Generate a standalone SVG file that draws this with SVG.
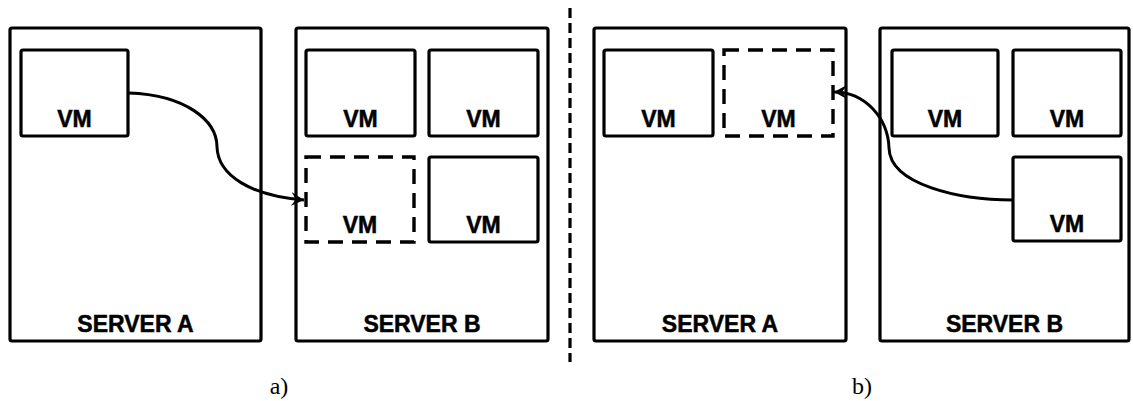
<svg xmlns="http://www.w3.org/2000/svg" width="1133" height="401" viewBox="0 0 1133 401">
  <style>
    .server { fill: #fff; stroke: #000; stroke-width: 3.2; stroke-linejoin: round; }
    .vm { fill: #fff; stroke: #000; stroke-width: 3.2; stroke-linejoin: round; }
    .vm-ghost { fill: none; stroke: #000; stroke-width: 3.4; stroke-dasharray: 15 9; }
    .lbl { font-family: "Liberation Sans", Arial, sans-serif; font-weight: bold; font-size: 23px; text-anchor: middle; fill: #000; stroke: #000; stroke-width: 0.5; }
    .cap { font-family: "Liberation Serif", "Times New Roman", serif; font-size: 24px; text-anchor: middle; fill: #000; }
    .move { fill: none; stroke: #000; stroke-width: 3; }
    .divider { stroke: #000; stroke-width: 3.2; stroke-dasharray: 10 5; }
  </style>
  <defs>
    <marker id="arrow" markerUnits="userSpaceOnUse" markerWidth="16" markerHeight="14" refX="13" refY="7" orient="auto">
      <path d="M0,0 L13,7 L0,14 L5,7 Z" fill="#000"/>
    </marker>
  </defs>

  <rect width="1133" height="401" fill="#fff"/>

  <!-- left half: a) -->
  <g id="a-server-a">
    <rect class="server" x="10" y="28" width="251" height="313" rx="2"/>
    <text class="lbl" x="135.5" y="332">SERVER A</text>
  </g>
  <g id="a-server-a-vm1">
    <rect class="vm" x="21" y="50" width="107" height="86" rx="2"/>
    <text class="lbl" x="74.5" y="127">VM</text>
  </g>
  <g id="a-server-b">
    <rect class="server" x="296" y="28" width="252" height="313" rx="2"/>
    <text class="lbl" x="422" y="332">SERVER B</text>
  </g>
  <g id="a-server-b-vm1">
    <rect class="vm" x="306" y="50" width="109" height="86" rx="2"/>
    <text class="lbl" x="360.5" y="127">VM</text>
  </g>
  <g id="a-server-b-vm2">
    <rect class="vm" x="429" y="50" width="109" height="86" rx="2"/>
    <text class="lbl" x="483.5" y="127">VM</text>
  </g>
  <g id="a-server-b-vm-new">
    <rect class="vm-ghost" x="306" y="157" width="108" height="85"/>
    <text class="lbl" x="360" y="233">VM</text>
  </g>
  <g id="a-server-b-vm3">
    <rect class="vm" x="429" y="157" width="109" height="85" rx="2"/>
    <text class="lbl" x="483.5" y="233">VM</text>
  </g>
  <g id="a-caption">
    <text class="cap" x="279" y="394">a)</text>
  </g>

  <!-- separator between the two cases -->
  <line class="divider" x1="570" y1="8" x2="570" y2="362"/>

  <!-- right half: b) -->
  <g id="b-server-a">
    <rect class="server" x="594" y="28" width="252" height="313" rx="2"/>
    <text class="lbl" x="720" y="332">SERVER A</text>
  </g>
  <g id="b-server-a-vm1">
    <rect class="vm" x="604" y="50" width="109" height="86" rx="2"/>
    <text class="lbl" x="658.5" y="127">VM</text>
  </g>
  <g id="b-server-a-vm-new">
    <rect class="vm-ghost" x="724" y="50" width="109" height="86"/>
    <text class="lbl" x="778.5" y="127">VM</text>
  </g>
  <g id="b-server-b">
    <rect class="server" x="880" y="28" width="249" height="313" rx="2"/>
    <text class="lbl" x="1004.5" y="332">SERVER B</text>
  </g>
  <g id="b-server-b-vm1">
    <rect class="vm" x="892" y="50" width="106" height="86" rx="2"/>
    <text class="lbl" x="945" y="127">VM</text>
  </g>
  <g id="b-server-b-vm2">
    <rect class="vm" x="1013" y="50" width="108" height="86" rx="2"/>
    <text class="lbl" x="1067" y="127">VM</text>
  </g>
  <g id="b-server-b-vm3">
    <rect class="vm" x="1013" y="157" width="108" height="84" rx="2"/>
    <text class="lbl" x="1067" y="232">VM</text>
  </g>
  <g id="b-caption">
    <text class="cap" x="862" y="394">b)</text>
  </g>

  <!-- migration arrows -->
  <g id="connectors">
    <path class="move" d="M129,93 C185,95 217,120 217,147 C218,176 252,196 304,200" marker-end="url(#arrow)"/>
    <path class="move" d="M1013,200 C960,200 890,185 889,148 C888,118 865,92 834,92" marker-end="url(#arrow)"/>
  </g>
</svg>
